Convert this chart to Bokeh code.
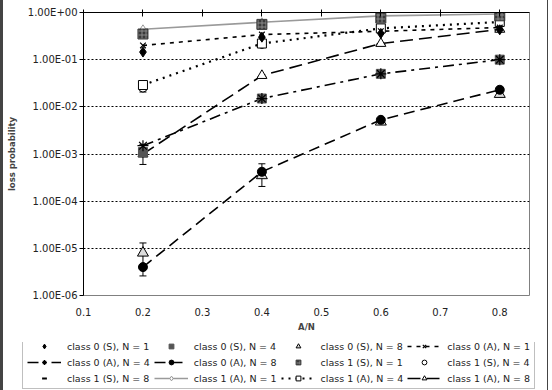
from bokeh.plotting import figure
from bokeh.layouts import column
from bokeh.models import (Range1d, FixedTicker, CustomJSTickFormatter, LinearAxis,
                          Legend, LegendItem, Whisker, ColumnDataSource, TeeHead)
from bokeh.embed import file_html
from bokeh.resources import INLINE

# ---------------- data ----------------
load = [0.2, 0.4, 0.6, 0.8]

c0_s_n1 = [0.145, 0.30, 0.36, 0.43]
c0_s_n4 = [1.1e-3, 0.015, 0.05, 0.10]
c0_s_n8 = [8.0e-6, 3.5e-4, 4.8e-3, 0.0185]
c0_a_n1 = [0.20, 0.34, 0.40, 0.48]
c0_a_n4 = [1.5e-3, 0.015, 0.05, 0.10]
c0_a_n8 = [4.0e-6, 4.2e-4, 5.3e-3, 0.023]
c1_s_n1 = [0.35, 0.56, 0.76, 0.85]
c1_s_n4 = [0.025, 0.21, 0.44, 0.60]
c1_s_n8 = [9.0e-4, 0.042, 0.21, 0.40]
c1_a_n1 = [0.44, 0.62, 0.85, 0.93]
c1_a_n4 = [0.029, 0.22, 0.46, 0.63]
c1_a_n8 = [1.0e-3, 0.046, 0.22, 0.44]

# confidence intervals of simulation points
err_load = [0.2, 0.4, 0.2, 0.2]
err_lower = [2.6e-6, 2.05e-4, 6.0e-4, 0.0206]
err_upper = [1.3e-5, 6.2e-4, 1.6e-3, 0.030]

x_ticks = [0.1, 0.2, 0.3, 0.4, 0.5, 0.6, 0.7, 0.8]
y_ticks = [1e-6, 1e-5, 1e-4, 1e-3, 1e-2, 1e-1, 1.0]

labels = ["class 0 (S), N = 1", "class 0 (S), N = 4", "class 0 (S), N = 8",
          "class 0 (A), N = 1", "class 0 (A), N = 4", "class 0 (A), N = 8",
          "class 1 (S), N = 1", "class 1 (S), N = 4", "class 1 (S), N = 8",
          "class 1 (A), N = 1", "class 1 (A), N = 4", "class 1 (A), N = 8"]

FONT = "DejaVu Sans"

p = figure(width=544, height=342, y_axis_type="log",
           x_range=Range1d(0.1, 0.85), y_range=Range1d(1e-6, 1.0),
           output_backend="svg", toolbar_location=None, x_axis_location=None,
           min_border_left=79, min_border_right=18, min_border_top=12,
           min_border_bottom=47)
p.outline_line_color = "#808080"
p.outline_line_width = 1
p.xgrid.visible = False
p.ygrid.ticker = FixedTicker(ticks=y_ticks)
p.ygrid.grid_line_color = "black"
p.ygrid.grid_line_dash = "2 2"
p.ygrid.grid_line_width = 1.2

# y axis
ya = p.yaxis[0]
ya.ticker = FixedTicker(ticks=y_ticks, minor_ticks=[])
ya.formatter = CustomJSTickFormatter(code="""
const e = Math.round(Math.log10(tick));
const s = e < 0 ? "-" : "+";
return "1.00E" + s + String(Math.abs(e)).padStart(2, "0");
""")
ya.axis_label = "loss probability"
ya.axis_label_text_font = FONT
ya.axis_label_text_font_style = "bold"
ya.axis_label_text_font_size = "8.5px"
ya.axis_label_standoff = 8
ya.major_label_text_font = FONT
ya.major_label_text_font_size = "10px"
ya.major_label_text_color = "#222222"
ya.major_tick_out = 4
ya.major_tick_in = 0
ya.minor_tick_out = 0
ya.minor_tick_in = 0
ya.major_label_standoff = 2
ya.axis_line_color = "black"

# top axis: ticks only
xt = LinearAxis(ticker=FixedTicker(ticks=x_ticks, minor_ticks=[]))
xt.axis_line_color = "black"
xt.major_tick_in = 4
xt.major_tick_out = 3
xt.minor_tick_line_color = None
xt.formatter = CustomJSTickFormatter(code="return '';")
xt.major_label_standoff = 0
p.add_layout(xt, "above")

# bottom axis: labels only
xb = LinearAxis(ticker=FixedTicker(ticks=x_ticks, minor_ticks=[]))
xb.axis_line_color = None
xb.major_tick_line_color = None
xb.minor_tick_line_color = None
xb.major_label_text_font = FONT
xb.major_label_text_font_size = "10px"
xb.major_label_text_color = "#222222"
xb.major_label_standoff = 6
xb.axis_label = "A/N"
xb.axis_label_text_font = FONT
xb.axis_label_text_font_style = "bold"
xb.axis_label_text_font_size = "8.5px"
xb.axis_label_standoff = 3
p.add_layout(xb, "below")

# ---------------- styles ----------------
styles = [
    dict(marker=dict(marker="diamond", size=10, fill_color="black", line_color="black")),
    dict(marker=dict(marker="square", size=9, fill_color="#555555", line_color="#555555")),
    dict(marker=dict(marker="triangle", size=11, fill_color="#dddddd", line_color="black")),
    dict(line=dict(line_color="black", line_width=1.6, line_dash="4 5"),
         marker=dict(marker="x", size=8, line_color="black", line_width=1.2)),
    dict(line=dict(line_color="black", line_width=1.6, line_dash="11 5 3 5"),
         marker=dict(marker="asterisk", size=11, line_color="black", line_width=1.2)),
    dict(line=dict(line_color="black", line_width=1.6, line_dash="11 6"),
         marker=dict(marker="circle", size=9, fill_color="black", line_color="black")),
    dict(marker=dict(marker="square", size=10, fill_color="#3a3a3a", line_color="#3a3a3a",
                     hatch_pattern="+", hatch_color="#8a8a8a", hatch_scale=4, hatch_weight=1)),
    dict(marker=dict(marker="circle", size=8, fill_color="white", line_color="black")),
    dict(marker=dict(marker="dash", size=9, line_color="black", line_width=2)),
    dict(line=dict(line_color="#9a9a9a", line_width=1.6),
         marker=dict(marker="diamond", size=9, fill_color="white", line_color="#9a9a9a")),
    dict(line=dict(line_color="black", line_width=2.2, line_dash="2 5"),
         marker=dict(marker="square", size=9, fill_color="white", line_color="black")),
    dict(line=dict(line_color="black", line_width=1.6, line_dash="13 6"),
         marker=dict(marker="triangle", size=10, fill_color="white", line_color="black")),
]
series = [c0_s_n1, c0_s_n4, c0_s_n8, c0_a_n1, c0_a_n4, c0_a_n8,
          c1_s_n1, c1_s_n4, c1_s_n8, c1_a_n1, c1_a_n4, c1_a_n8]

# lines
for st, ys in zip(styles, series):
    if "line" in st:
        p.line(load, ys, **st["line"])

# error bars
esrc = ColumnDataSource(dict(x=err_load, lo=err_lower, hi=err_upper))
p.add_layout(Whisker(source=esrc, base="x", lower="lo", upper="hi",
                     line_color="black", line_width=1,
                     lower_head=TeeHead(size=7, line_color="black", line_width=1),
                     upper_head=TeeHead(size=7, line_color="black", line_width=1)))

# markers (draw order roughly bottom series first)
draw_order = [8, 11, 2, 5, 1, 4, 7, 10, 3, 0, 9, 6]
for i in draw_order:
    p.scatter(load, series[i], **styles[i]["marker"])

# ---------------- legend (separate strip) ----------------
# proxy renderers use the same data but lie outside this strip's ranges
pl = figure(frame_width=544, frame_height=48, output_backend="svg", toolbar_location=None,
            x_range=Range1d(5, 6), y_range=Range1d(5, 6), min_border=0,
            x_axis_location=None, y_axis_location=None)
pl.outline_line_color = None
pl.grid.visible = False
items = []
for st, ys, lab in zip(styles, series, labels):
    rs = []
    if "line" in st:
        rs.append(pl.line(load, ys, **st["line"]))
    rs.append(pl.scatter(load, ys, **st["marker"]))
    items.append(LegendItem(label=lab, renderers=rs))

leg = Legend(items=items, location=(19, 1), orientation="horizontal", ncols=4,
             label_text_font=FONT, label_text_font_size="9.5px", label_text_color="#222222",
             glyph_width=34, glyph_height=12, label_height=12, label_standoff=6,
             spacing=4, padding=4, margin=0,
             border_line_color="#808080", border_line_width=1,
             background_fill_color="white", background_fill_alpha=1)
pl.add_layout(leg, "center")

layout = column(p, pl, spacing=0,
                styles={"border-left": "3px solid #444444",
                        "border-right": "1px solid #444444",
                        "margin-right": "4px"})
open("out.html", "w").write(file_html(layout, INLINE))
